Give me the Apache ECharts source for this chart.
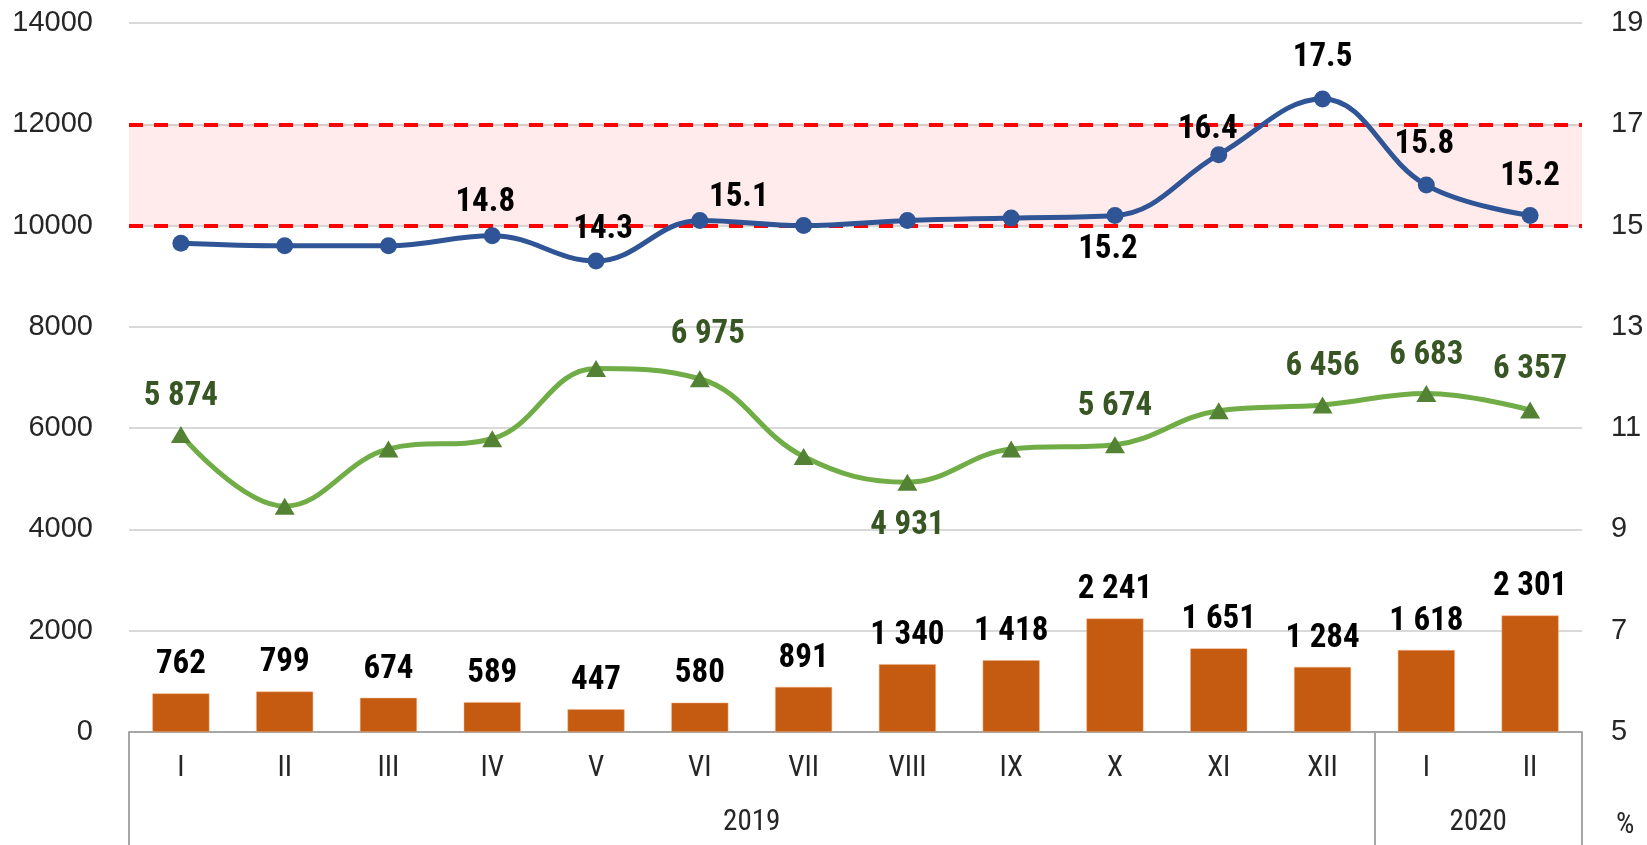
<!DOCTYPE html>
<html>
<head>
<meta charset="utf-8">
<script src="https://cdn.jsdelivr.net/npm/echarts@6/dist/echarts.min.js"></script>
<style>
  html, body { margin: 0; padding: 0; background: #fff; }
  #chart { width: 1647px; height: 845px; }
</style>
</head>
<body>
<div id="chart"></div>
<script>
// months on the axis, year groups under them (placed on band boundaries)
var months = ['I', 'II', 'III', 'IV', 'V', 'VI', 'VII', 'VIII', 'IX', 'X', 'XI', 'XII', 'I', 'II'];
var years = ['', '', '', '', '', '', '2019', '', '', '', '', '', '', '2020', ''];
var yearStarts = [0, 12];

// series values
var bars = [762, 799, 674, 589, 447, 580, 891, 1340, 1418, 2241, 1651, 1284, 1618, 2301];
var green = [5874, 4460, 5590, 5790, 7180, 6975, 5440, 4931, 5590, 5674, 6345, 6456, 6683, 6357];
var blue = [14.65, 14.6, 14.6, 14.8, 14.3, 15.1, 15.0, 15.1, 15.15, 15.2, 16.4, 17.5, 15.8, 15.2];

// target band on the right axis
var band = [15, 17];

// right axis tick labels
var rightTicks = [5, 7, 9, 11, 13, 15, 17, 19];

var narrow = "'Liberation Sans Narrow', 'Arial Narrow', 'Roboto Condensed', sans-serif";
var wide = "'Liberation Sans', Arial, sans-serif";

// which points carry a label, and where (offset of label centre from the point)
var blueLabelAt = { 3: [-7, -33], 4: [7, -31], 5: [39, -23], 9: [-7, 34], 10: [-11, -25], 11: [0, -41], 12: [-2, -40], 13: [0, -39] };
var greenLabelAt = { 0: [0, -38], 5: [8, -44], 7: [0, 43], 9: [0, -38], 11: [0, -38], 12: [0, -38], 13: [0, -40] };

function spaced(v) {
  return String(v).replace(/\B(?=(\d{3})+(?!\d))/g, ' ');
}

function withLabels(values, where) {
  return values.map(function (v, i) {
    if (where[i]) {
      return { value: v, label: { show: true, position: 'inside', offset: where[i] } };
    }
    return { value: v, label: { show: false } };
  });
}

var chart = echarts.init(document.getElementById('chart'));
chart.setOption({
  animation: false,
  backgroundColor: '#fff',
  title: {
    text: '%',
    left: 1611,
    top: 806,
    textStyle: { fontFamily: narrow, fontSize: 29, fontWeight: 'normal', color: '#262626' }
  },
  grid: [
    { left: 129, right: 65, top: 23, bottom: 113 },
    { left: 129, right: 65, top: 23, bottom: 113 }
  ],
  xAxis: [
    {
      type: 'category',
      data: months,
      boundaryGap: true,
      axisLine: { lineStyle: { color: '#A6A6A6', width: 2 } },
      axisTick: {
        show: true,
        interval: function (i) { return yearStarts.indexOf(i) >= 0; },
        length: 113,
        lineStyle: { color: '#A6A6A6', width: 2 }
      },
      axisLabel: { interval: 0, margin: 22, fontSize: 29, fontFamily: narrow, color: '#262626' }
    },
    {
      type: 'category',
      gridIndex: 1,
      position: 'bottom',
      data: years,
      boundaryGap: false,
      axisLine: { show: false },
      axisTick: { show: false },
      axisLabel: { interval: 0, margin: 76, fontSize: 29, fontFamily: narrow, color: '#262626' }
    }
  ],
  yAxis: [
    {
      type: 'value',
      min: 0,
      max: 14000,
      interval: 2000,
      axisLine: { show: false },
      axisTick: { show: false },
      axisLabel: {
        margin: 36, fontSize: 29, fontFamily: wide, color: '#262626',
        formatter: function (v) { return String(v); }
      },
      splitLine: { lineStyle: { color: '#D9D9D9', width: 2 } }
    },
    {
      type: 'value',
      position: 'right',
      min: 5,
      max: 19,
      axisLine: { show: false },
      axisTick: { show: false },
      axisLabel: { customValues: rightTicks, margin: 29, fontSize: 29, fontFamily: wide, color: '#262626' },
      splitLine: { show: false }
    },
    {
      type: 'value',
      gridIndex: 1,
      show: false
    }
  ],
  series: [
    {
      name: 'bars',
      type: 'bar',
      data: bars,
      barWidth: 57,
      itemStyle: { color: '#C55A11', borderColor: '#F4B183', borderWidth: 0.5 },
      label: {
        show: true,
        position: 'top',
        distance: 12,
        formatter: function (p) { return spaced(p.value); },
        fontFamily: narrow,
        fontWeight: 'bold',
        fontSize: 33,
        color: '#000'
      },
      z: 2
    },
    {
      name: 'green',
      type: 'line',
      data: withLabels(green, greenLabelAt),
      smooth: 0.4,
      symbol: 'triangle',
      symbolSize: [20, 17],
      lineStyle: { color: '#70AD47', width: 5 },
      itemStyle: { color: '#548235' },
      label: {
        formatter: function (p) { return spaced(p.value); },
        fontFamily: narrow,
        fontWeight: 'bold',
        fontSize: 33,
        color: '#375623'
      },
      z: 4
    },
    {
      name: 'blue',
      type: 'line',
      yAxisIndex: 1,
      data: withLabels(blue, blueLabelAt),
      smooth: 0.4,
      symbol: 'circle',
      symbolSize: 17,
      lineStyle: { color: '#2F5597', width: 5 },
      itemStyle: { color: '#2F5597' },
      label: {
        formatter: function (p) { return p.value.toFixed(1); },
        fontFamily: narrow,
        fontWeight: 'bold',
        fontSize: 33,
        color: '#000'
      },
      markArea: {
        silent: true,
        itemStyle: { color: 'rgba(255, 0, 0, 0.08)' },
        data: [[{ yAxis: band[0] }, { yAxis: band[1] }]]
      },
      markLine: {
        silent: true,
        symbol: 'none',
        label: { show: false },
        lineStyle: { color: '#FF0000', type: [14, 11], width: 4 },
        data: [{ yAxis: band[0] }, { yAxis: band[1] }]
      },
      z: 5
    }
  ]
});
</script>
</body>
</html>
